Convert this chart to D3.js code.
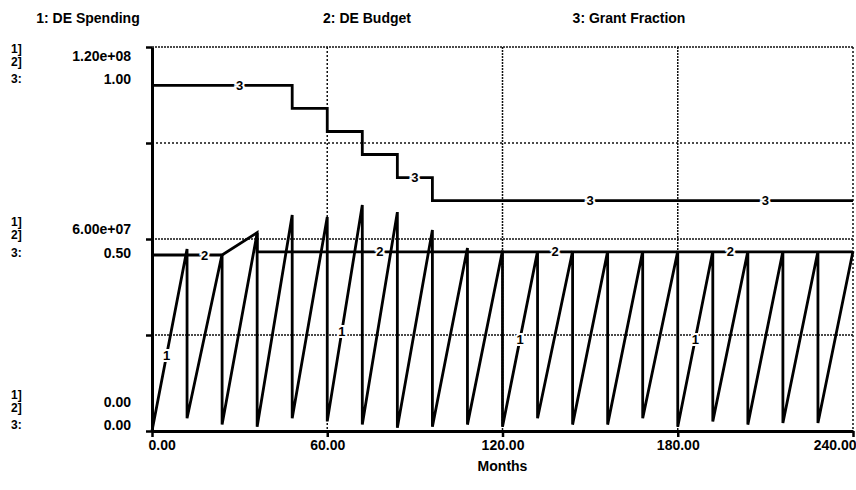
<!DOCTYPE html>
<html lang="en">
<head>
<meta charset="UTF-8">
<title>DE Spending, DE Budget and Grant Fraction</title>
<script src="https://d3js.org/d3.v7.min.js"></script>
<style>
    body { margin: 0; background: #fff; }
    svg text {
        font-family: "Liberation Sans", Arial, sans-serif;
        font-weight: bold;
        font-size: 14px;
        fill: #000;
    }
</style>
</head>
<body>
<div id="chart"></div>
<script>
// ---- data ----
const seriesNames = ["1: DE Spending", "2: DE Budget", "3: Grant Fraction"];

// DE Spending: sawtooth, one ramp per year (value at start of year, value at year end)
const yearStart = [0, 12, 24, 36, 48, 60, 72, 84, 96, 108, 120, 132, 144, 156, 168, 180, 192, 204, 216, 228];
const yearEnd   = [12, 24, 36, 48, 60, 72, 84, 96, 108, 120, 132, 144, 156, 168, 180, 192, 204, 216, 228, 240];
const spendStart = [0, 4.0e6, 2.0e6, 1.3e6, 4.0e6, 3.0e6, 2.0e6, 1.0e6, 1.3e6, 2.0e6,
                    1.3e6, 4.0e6, 2.0e6, 2.0e6, 4.0e6, 1.3e6, 3.0e6, 2.0e6, 2.5e6, 2.5e6];
const spendEnd = [5.69e7, 5.53e7, 6.19e7, 6.75e7, 6.69e7, 7.06e7, 6.84e7, 6.28e7, 5.72e7, 5.64e7,
                  5.62e7, 5.62e7, 5.62e7, 5.62e7, 5.62e7, 5.62e7, 5.62e7, 5.62e7, 5.62e7, 5.62e7];

// DE Budget
const budgetMonth = [0, 24, 36, 36, 240];
const budgetValue = [5.5e7, 5.5e7, 6.2e7, 5.6e7, 5.6e7];

// Grant Fraction (steps)
const grantMonth = [0, 48, 60, 72, 84, 96, 240];
const grantValue = [0.90, 0.84, 0.78, 0.72, 0.66, 0.60, 0.60];

// axis labels
const xTicks = [0, 60, 120, 180, 240];
const gridFractions = [0.25, 0.5, 0.75, 1];
const scaleTop = ["1.20e+08", "1.00"];
const scaleMid = ["6.00e+07", "0.50"];
const scaleBot = ["0.00", "0.00"];

// where the series number tags sit on each line (months)
const tagMonths = [[5, 65, 126, 186], [18, 78, 138, 198], [30, 90, 150, 210]];

// ---- layout ----
const W = 856, H = 490;
const margin = { top: 47, right: 3, bottom: 59, left: 152 },
      width = W - margin.left - margin.right,
      height = H - margin.top - margin.bottom;

const svg = d3.select("#chart").append("svg")
    .attr("width", W)
    .attr("height", H);

const g = svg.append("g")
    .attr("transform", `translate(${margin.left},${margin.top})`);

const x = d3.scaleLinear().domain([0, 240]).range([0, width]);
const yMoney = d3.scaleLinear().domain([0, 1.2e8]).range([height, 0]);
const yFrac = d3.scaleLinear().domain([0, 1]).range([height, 0]);

// gridlines
const hDash = { 0.25: "2,1", 0.5: "2,1", 0.75: "2,2", 1: "2,1" };
g.selectAll(".hgrid")
    .data(gridFractions)
    .enter().append("line")
    .attr("x1", 0).attr("x2", width)
    .attr("y1", d => yFrac(d)).attr("y2", d => yFrac(d))
    .attr("stroke", "#111")
    .attr("stroke-width", 1.5)
    .attr("stroke-dasharray", d => hDash[d]);

const vDash = { 60: "2,2", 120: "2,1", 180: "2,1", 240: "2,2" };
g.selectAll(".vgrid")
    .data(xTicks.slice(1))
    .enter().append("line")
    .attr("x1", d => x(d)).attr("x2", d => x(d))
    .attr("y1", 0).attr("y2", height)
    .attr("stroke", "#111")
    .attr("stroke-width", 1.5)
    .attr("stroke-dasharray", d => vDash[d]);

// series paths
const spendPts = yearStart.flatMap((s, i) => [[s, spendStart[i]], [yearEnd[i], spendEnd[i]]]);
const budgetPts = budgetMonth.map((m, i) => [m, budgetValue[i]]);
const grantPts = [];
grantMonth.forEach((m, i) => {
    grantPts.push([m, grantValue[i]]);
    if (i < grantMonth.length - 1) grantPts.push([grantMonth[i + 1], grantValue[i]]);
});

const series = [
    { pts: spendPts, y: yMoney },
    { pts: budgetPts, y: yMoney },
    { pts: grantPts, y: yFrac }
];

series.forEach(s => {
    g.append("path")
        .datum(s.pts)
        .attr("fill", "none")
        .attr("stroke", "#000")
        .attr("stroke-width", 2.8)
        .attr("stroke-linejoin", "miter")
        .attr("d", d3.line().x(d => x(d[0])).y(d => s.y(d[1])));
});

// value of a polyline at month t
function valueAt(pts, t) {
    for (let i = 0; i < pts.length - 1; i++) {
        const [t0, v0] = pts[i], [t1, v1] = pts[i + 1];
        if (t >= t0 && t <= t1 && t1 > t0) return v0 + (v1 - v0) * (t - t0) / (t1 - t0);
    }
    return pts[pts.length - 1][1];
}

// number tags on the lines (white halo breaks the line)
series.forEach((s, k) => {
    g.selectAll(".tag" + k)
        .data(tagMonths[k])
        .enter().append("text")
        .attr("x", d => x(d))
        .attr("y", d => s.y(valueAt(s.pts, d)))
        .attr("dy", "0.36em")
        .attr("text-anchor", "middle")
        .style("font-size", "13px")
        .style("stroke", "#fff")
        .style("stroke-width", 4)
        .style("paint-order", "stroke")
        .text(k + 1);
});

// axes
const yAxis = g.append("g")
    .call(d3.axisLeft(yFrac).tickValues([0, 0.25, 0.5, 0.75, 1]).tickSize(6).tickSizeOuter(0).tickFormat(""));
yAxis.select(".domain").attr("stroke-width", 3);
yAxis.selectAll(".tick line").attr("stroke-width", 2.5);

const xAxis = g.append("g")
    .attr("transform", `translate(0,${height})`)
    .call(d3.axisBottom(x).tickValues(xTicks).tickSize(6).tickSizeOuter(0).tickFormat(d3.format(".2f")));
xAxis.select(".domain").attr("stroke-width", 3);
xAxis.selectAll(".tick line").attr("stroke-width", 2.5);
xAxis.selectAll(".tick text")
    .style("font-size", "14px")
    .attr("text-anchor", (d, i) => i === 0 ? "start" : i === xTicks.length - 1 ? "end" : "middle")
    .attr("x", (d, i) => i === 0 ? -4 : i === xTicks.length - 1 ? 3 : 0);
xAxis.attr("font-family", null).attr("font-size", null);

g.append("text")
    .attr("x", width / 2)
    .attr("y", height + 40)
    .attr("text-anchor", "middle")
    .text("Months");

// y scale groups on the left
function scaleGroup(rows, vals) {
    ["1]", "2]", "3:"].forEach((r, i) => {
        svg.append("text").attr("x", 11).attr("y", rows[i]).attr("dy", "0.36em")
            .style("font-size", "12px").text(r);
    });
    svg.append("text").attr("x", 131).attr("y", (rows[0] + rows[1]) / 2).attr("dy", "0.36em")
        .attr("text-anchor", "end").text(vals[0]);
    svg.append("text").attr("x", 131).attr("y", rows[2]).attr("dy", "0.36em")
        .attr("text-anchor", "end").text(vals[1]);
}
scaleGroup([49, 62, 79], scaleTop);
scaleGroup([222, 235, 253], scaleMid);
scaleGroup([395, 408, 425], scaleBot);

// legend across the top
const legendX = [88, 367, 629];
svg.selectAll(".legend")
    .data(seriesNames)
    .enter().append("text")
    .attr("x", (d, i) => legendX[i])
    .attr("y", 18)
    .attr("dy", "0.36em")
    .attr("text-anchor", "middle")
    .text(d => d);
</script>
</body>
</html>
